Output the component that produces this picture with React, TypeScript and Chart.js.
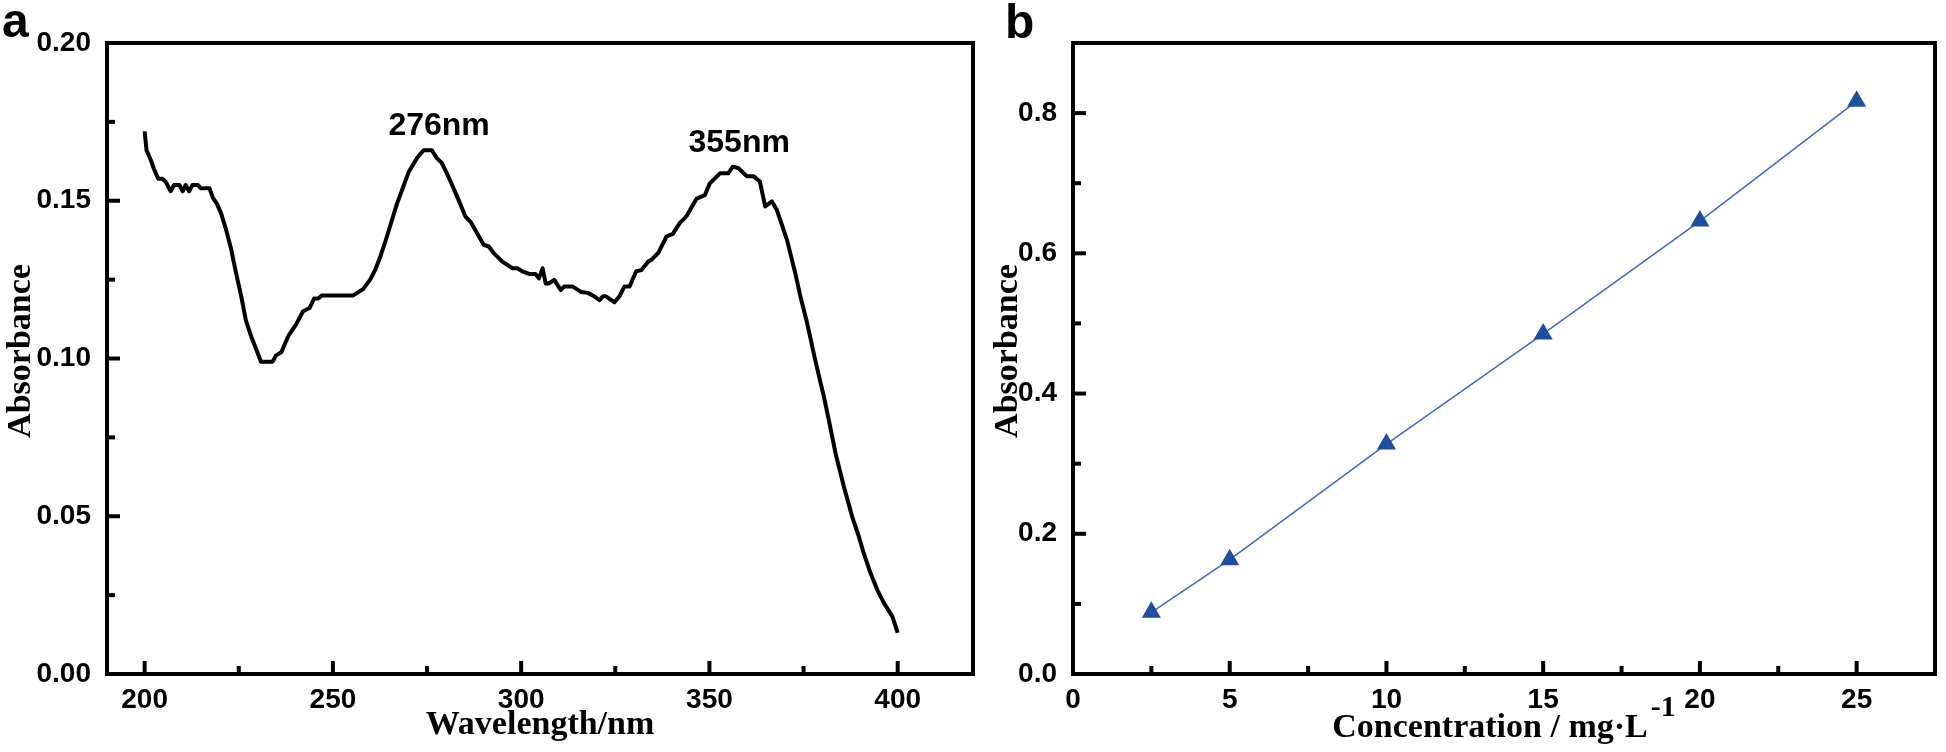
import React, { useEffect, useRef } from "react";
import { Chart, registerables } from "chart.js";

Chart.register(...registerables);

// ---------- Panel a: UV-Vis spectrum ----------
const wavelengths = [
  200.0, 200.5, 201.6, 202.5, 203.6, 204.7, 205.6, 206.9, 207.8, 209.2, 210.1, 210.9, 211.8, 212.7,
  214.1, 214.9, 217.2, 218.1, 219.2, 220.3, 221.6, 222.9, 224.3, 225.6, 226.9, 228.3, 229.6, 230.9,
  234.0, 234.9, 236.3, 238.1, 240.3, 242.1, 243.8, 245.0, 246.1, 247.1, 255.4, 258.0, 259.9, 261.2,
  262.5, 263.9, 265.2, 267.0, 270.1, 272.3, 274.1, 276.3, 277.6, 278.9, 280.7, 283.0, 285.2, 286.5,
  288.3, 290.1, 291.4, 292.7, 295.0, 297.7, 299.0, 300.3, 302.1, 303.8, 304.7, 305.7, 306.5, 307.4,
  308.8, 310.5, 311.4, 313.7, 315.9, 317.7, 319.4, 320.8, 321.7, 322.5, 324.8, 326.1, 327.4, 328.8,
  330.5, 331.9, 333.7, 334.5, 336.5, 338.6, 340.3, 342.1, 343.9, 346.6, 348.8, 350.1, 352.8, 355.0,
  356.2, 357.7, 359.9, 361.7, 363.4, 364.8, 366.6, 367.9, 370.6, 372.8, 374.1, 375.9, 378.1, 380.4,
  381.7, 383.5, 385.7, 387.9, 389.7, 391.0, 392.8, 394.6, 396.4, 398.6, 400.0,
];
const spectrumAbsorbance = [
  0.172, 0.166, 0.163, 0.160, 0.157, 0.157, 0.156, 0.153, 0.155, 0.155, 0.153, 0.155, 0.153, 0.155,
  0.155, 0.154, 0.154, 0.151, 0.149, 0.146, 0.141, 0.135, 0.127, 0.120, 0.112, 0.107, 0.103, 0.099,
  0.099, 0.101, 0.102, 0.107, 0.111, 0.115, 0.116, 0.119, 0.119, 0.120, 0.120, 0.122, 0.125, 0.128,
  0.132, 0.137, 0.142, 0.149, 0.159, 0.1635, 0.166, 0.166, 0.1635, 0.162, 0.1576, 0.1513, 0.145, 0.1434,
  0.1397, 0.136, 0.1355, 0.1334, 0.1307, 0.1286, 0.1286, 0.1276, 0.1268, 0.1268, 0.1254, 0.1286, 0.1238, 0.1238,
  0.1249, 0.1217, 0.1228, 0.1228, 0.1211, 0.1208, 0.1197, 0.1185, 0.1197, 0.1197, 0.1178, 0.1197, 0.1228, 0.1228,
  0.1276, 0.128, 0.1307, 0.1312, 0.1336, 0.1387, 0.1395, 0.1429, 0.1451, 0.1507, 0.1518, 0.1555, 0.1587, 0.1587,
  0.1608, 0.1603, 0.1578, 0.1578, 0.1561, 0.1482, 0.1498, 0.1471, 0.1376, 0.127, 0.120, 0.1115, 0.0995, 0.0879,
  0.0805, 0.0699, 0.0594, 0.0499, 0.0435, 0.0382, 0.0319, 0.0266, 0.0224, 0.0182, 0.013,
];
const spectrumXTicks = [200, 250, 300, 350, 400];
const spectrumXMinor = [225, 275, 325, 375];
const spectrumYTicks = [0, 0.05, 0.1, 0.15, 0.2];
const spectrumYMinor = [0.025, 0.075, 0.125, 0.175];
const peakLabels = ["276nm", "355nm"];
const peakLabelX = [278.2, 357.9];
const peakLabelY = [0.1737, 0.1683];

// ---------- Panel b: calibration curve ----------
const concentrations = [2.5, 5, 10, 15, 20, 25];
const calibrationAbsorbance = [0.088, 0.163, 0.328, 0.485, 0.646, 0.817];
const calXTicks = [0, 5, 10, 15, 20, 25];
const calXMinor = [2.5, 7.5, 12.5, 17.5, 22.5];
const calYTicks = [0, 0.2, 0.4, 0.6, 0.8];
const calYMinor = [0.1, 0.3, 0.5, 0.7];

const SANS = '"Liberation Sans", Arial, sans-serif';
const NARROW = '"Liberation Sans Narrow", "Arial Narrow", "Liberation Sans", Arial, sans-serif';
const SERIF = '"Liberation Serif", "Times New Roman", serif';

const LEFT_WIDTH = 1000;
const RIGHT_OFFSET = 975;

type PanelCfg = {
  xMajor: number[];
  xMinor: number[];
  yMajor: number[];
  yMinor: number[];
  letter: string;
  letterX: number;
  letterY: number;
  yTitle: string;
  yTitleX: number;
  yTitleY: number;
  xTitle: string;
  xTitleSup?: string;
  xTitleY: number;
  labels?: { text: string; x: number; y: number }[];
};

function makePlugin(cfg: PanelCfg) {
  return {
    id: "panelDecor",
    afterDraw(chart: any) {
      const ctx: CanvasRenderingContext2D = chart.ctx;
      const a = chart.chartArea;
      const xs = chart.scales.x;
      const ys = chart.scales.y;
      ctx.save();
      ctx.strokeStyle = "#000";
      ctx.lineWidth = 4;
      ctx.lineCap = "butt";
      const tick = (vals: number[], len: number, axis: "x" | "y") => {
        vals.forEach((v) => {
          ctx.beginPath();
          if (axis === "x") {
            const p = xs.getPixelForValue(v);
            ctx.moveTo(p, a.bottom);
            ctx.lineTo(p, a.bottom - len);
          } else {
            const p = ys.getPixelForValue(v);
            ctx.moveTo(a.left, p);
            ctx.lineTo(a.left + len, p);
          }
          ctx.stroke();
        });
      };
      tick(cfg.xMajor, 13, "x");
      tick(cfg.xMinor, 8, "x");
      tick(cfg.yMajor, 13, "y");
      tick(cfg.yMinor, 8, "y");
      ctx.lineJoin = "miter";
      ctx.strokeRect(a.left, a.top, a.right - a.left, a.bottom - a.top);

      ctx.fillStyle = "#000";
      ctx.font = `bold 48px ${SANS}`;
      ctx.textAlign = "left";
      ctx.textBaseline = "alphabetic";
      ctx.fillText(cfg.letter, cfg.letterX, cfg.letterY);

      if (cfg.labels) {
        ctx.font = `bold 32px ${SANS}`;
        ctx.textAlign = "center";
        ctx.textBaseline = "middle";
        cfg.labels.forEach((l) => {
          ctx.fillText(l.text, xs.getPixelForValue(l.x), ys.getPixelForValue(l.y));
        });
      }

      ctx.font = `bold 34px ${SERIF}`;
      ctx.save();
      ctx.translate(cfg.yTitleX, cfg.yTitleY);
      ctx.rotate(-Math.PI / 2);
      ctx.textAlign = "center";
      ctx.textBaseline = "middle";
      ctx.fillText(cfg.yTitle, 0, 0);
      ctx.restore();

      const cx = (a.left + a.right) / 2;
      ctx.font = `bold 34px ${SERIF}`;
      const mainW = ctx.measureText(cfg.xTitle).width;
      let supW = 0;
      if (cfg.xTitleSup) {
        ctx.font = `bold 30px ${SERIF}`;
        supW = ctx.measureText(cfg.xTitleSup).width + 3;
      }
      const startX = cx - (mainW + supW) / 2;
      ctx.font = `bold 34px ${SERIF}`;
      ctx.textAlign = "left";
      ctx.textBaseline = "alphabetic";
      ctx.fillText(cfg.xTitle, startX, cfg.xTitleY);
      if (cfg.xTitleSup) {
        ctx.font = `bold 30px ${SERIF}`;
        ctx.fillText(cfg.xTitleSup, startX + mainW + 3, cfg.xTitleY - 21);
      }
      ctx.restore();
    },
  };
}

function makeOptions(
  xMin: number,
  xMax: number,
  yMin: number,
  yMax: number,
  xTicks: number[],
  yTicks: number[],
  yDecimals: number,
  yWidth: number,
  padRight: number
) {
  const tickFont = { family: NARROW, size: 28, weight: "bold" as const };
  return {
    responsive: false,
    animation: false as const,
    events: [],
    layout: { padding: { left: 0, top: 43, right: padRight, bottom: 0 } },
    plugins: { legend: { display: false }, tooltip: { enabled: false } },
    scales: {
      x: {
        type: "linear" as const,
        min: xMin,
        max: xMax,
        grid: { display: false, drawTicks: false },
        border: { display: false },
        afterBuildTicks: (s: any) => {
          s.ticks = xTicks.map((v) => ({ value: v }));
        },
        afterFit: (s: any) => {
          s.height = 78;
        },
        ticks: {
          color: "#000",
          font: tickFont,
          padding: 9,
          maxRotation: 0,
          autoSkip: false,
          callback: (v: any) => String(v),
        },
      },
      y: {
        type: "linear" as const,
        min: yMin,
        max: yMax,
        grid: { display: false, drawTicks: false },
        border: { display: false },
        afterBuildTicks: (s: any) => {
          s.ticks = yTicks.map((v) => ({ value: v }));
        },
        afterFit: (s: any) => {
          s.width = yWidth;
        },
        ticks: {
          color: "#000",
          font: tickFont,
          padding: 16,
          autoSkip: false,
          callback: (v: any) => Number(v).toFixed(yDecimals),
        },
      },
    },
  };
}

export default function App() {
  const leftRef = useRef<HTMLCanvasElement | null>(null);
  const rightRef = useRef<HTMLCanvasElement | null>(null);

  useEffect(() => {
    const left = new Chart(leftRef.current as HTMLCanvasElement, {
      type: "line",
      data: {
        datasets: [
          {
            data: wavelengths.map((w, i) => ({ x: w, y: spectrumAbsorbance[i] })),
            borderColor: "#000",
            borderWidth: 4,
            pointRadius: 0,
            tension: 0,
            borderJoinStyle: "round",
            borderCapStyle: "butt",
            fill: false,
          } as any,
        ],
      },
      options: makeOptions(190, 420, 0, 0.2, spectrumXTicks, spectrumYTicks, 2, 107, LEFT_WIDTH - 973) as any,
      plugins: [
        makePlugin({
          xMajor: spectrumXTicks,
          xMinor: spectrumXMinor,
          yMajor: spectrumYTicks,
          yMinor: spectrumYMinor,
          letter: "a",
          letterX: 2,
          letterY: 37,
          yTitle: "Absorbance",
          yTitleX: 21,
          yTitleY: 351,
          xTitle: "Wavelength/nm",
          xTitleY: 734,
          labels: peakLabels.map((t, i) => ({ text: t, x: peakLabelX[i], y: peakLabelY[i] })),
        }),
      ],
    });

    const right = new Chart(rightRef.current as HTMLCanvasElement, {
      type: "line",
      data: {
        datasets: [
          {
            data: concentrations.map((c, i) => ({ x: c, y: calibrationAbsorbance[i] })),
            borderColor: "#3a6bc4",
            borderWidth: 1.5,
            pointStyle: "triangle",
            pointRadius: 11,
            pointBackgroundColor: "#1d4ea1",
            pointBorderColor: "#1d4ea1",
            pointBorderWidth: 0,
            tension: 0,
            fill: false,
          } as any,
        ],
      },
      options: makeOptions(0, 27.5, 0, 0.9, calXTicks, calYTicks, 1, 1073 - RIGHT_OFFSET, 4) as any,
      plugins: [
        makePlugin({
          xMajor: calXTicks,
          xMinor: calXMinor,
          yMajor: calYTicks,
          yMinor: calYMinor,
          letter: "b",
          letterX: 1005 - RIGHT_OFFSET,
          letterY: 38,
          yTitle: "Absorbance",
          yTitleX: 1008 - RIGHT_OFFSET,
          yTitleY: 351,
          xTitle: "Concentration / mg·L",
          xTitleSup: "-1",
          xTitleY: 737,
        }),
      ],
    });

    return () => {
      left.destroy();
      right.destroy();
    };
  }, []);

  return (
    <div style={{ position: "absolute", left: 0, top: 0, width: 1946, height: 752, background: "#fff" }}>
      <canvas
        ref={leftRef}
        width={LEFT_WIDTH}
        height={752}
        style={{ position: "absolute", left: 0, top: 0, width: LEFT_WIDTH, height: 752 }}
      />
      <canvas
        ref={rightRef}
        width={1946 - RIGHT_OFFSET}
        height={752}
        style={{ position: "absolute", left: RIGHT_OFFSET, top: 0, width: 1946 - RIGHT_OFFSET, height: 752 }}
      />
    </div>
  );
}
